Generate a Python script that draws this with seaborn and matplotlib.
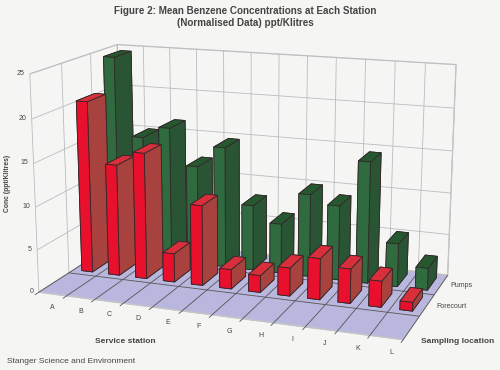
import numpy as np
import seaborn as sns
import matplotlib.pyplot as plt

stations = list("ABCDEFGHIJKL")
locations = ["Forecourt", "Pumps"]
forecourt = [20.5, 13.3, 15.0, 3.4, 9.5, 2.3, 2.0, 3.3, 4.8, 4.0, 3.0, 1.0]
pumps = [24.5, 15.0, 16.4, 12.0, 14.6, 7.9, 6.0, 9.9, 8.9, 14.4, 5.1, 2.6]
conc_ticks = [0, 5, 10, 15, 20, 25]

bg = "#f5f6f3"
ink = "#444444"
sns.set_theme(style="white", rc={"figure.facecolor": bg, "savefig.facecolor": bg})
plt.rcParams["font.family"] = ["Liberation Sans", "DejaVu Sans"]

# faces: bottom, top, front, back, left, right
red_faces = ["#e8102c", "#d92f3b", "#e8102c", "#e8102c", "#a8423f", "#a8423f"]
green_faces = ["#2f6b3e", "#26582f", "#2f6b3e", "#2f6b3e", "#2a5535", "#2a5535"]

fig = plt.figure(figsize=(5, 3.7), dpi=100)
# camera fitted to the corners of the reference's box
ax = fig.add_axes([-7.9 / 500, 1.4 / 370, 1, 1], projection="3d", computed_zorder=False)
ax.set_proj_type("persp", focal_length=0.668)
ax.view_init(elev=14.6, azim=-69.8)
ax.set_box_aspect((12, 6.225, 7.12), zoom=1.247)
ax.patch.set_alpha(0)

ax.set_xlim(0, 12)
ax.set_ylim(0, 3)
ax.set_zlim(0, 25)
ax.set_xticks(range(13))
ax.set_yticks(range(4))
ax.set_zticks(conc_ticks)

for axis in (ax.xaxis, ax.yaxis, ax.zaxis):
    axis.set_ticklabels([])
    for tick in axis.get_major_ticks():
        tick.label1.set_visible(False)
    axis.line.set_color("#c4c6c8")
    axis.line.set_linewidth(0.6)
    axis.set_pane_color(bg)
    axis.pane.set_edgecolor("#d0d2d2")
    axis._axinfo["grid"].update(color="#b9bbc0", linewidth=0.6)
    axis._axinfo["tick"].update(inward_factor=0, outward_factor=0)
ax.zaxis.pane.set_facecolor("#bab7de")

# dark floor lines
for i in range(13):
    ax.plot([i, i], [-0.12, 3], [0, 0], color="#55535f", lw=0.6, zorder=1, clip_on=False)
for j in (1, 2):
    ax.plot([0, 12], [j, j], [0, 0], color="#55535f", lw=0.6, zorder=1, clip_on=False)

bw = 0.4
bd = 0.65
z = 2
rows = [(1, forecourt, red_faces), (2, pumps, green_faces)]
for row, vals, faces in reversed(rows):
    for i in range(len(stations)):
        bar = ax.bar3d(i + (1 - bw) / 2, row + (1 - bd) / 2, 0, bw, bd, vals[i], color=faces,
                       shade=False, edgecolor="#33282a", linewidth=0.6, zorder=z)
        bar.set_clip_on(False)  # the square axes box would cut off the last bars
        z += 1

for c in conc_ticks:
    ax.text(-0.2, 0, c, str(c), fontsize=5, color=ink, ha="right", va="center")
for i, s in enumerate(stations):
    ax.text(i + 0.8, -0.3, -0.7, s, fontsize=5, color=ink, ha="center", va="center")
for row, loc in zip((1, 2), locations):
    ax.text(12.3, row + 0.5, 0, loc, fontsize=5, color=ink, ha="left", va="center")

fig.text(0.49, 0.953, "Figure 2: Mean Benzene Concentrations at Each Station\n(Normalised Data) ppt/Klitres",
         fontsize=7.15, fontweight="bold", color=ink, ha="center", va="center", linespacing=1.25)
fig.text(0.016, 0.505, "Conc (ppt/Klitres)", rotation=90, fontsize=4.9, fontweight="bold",
         color=ink, ha="center", va="center")
fig.text(0.251, 0.076, "Service station", fontsize=6, fontweight="bold", color=ink, ha="center", va="center")
fig.text(0.916, 0.076, "Sampling location", fontsize=6, fontweight="bold", color=ink, ha="center", va="center")
fig.text(0.014, 0.024, "Stanger Science and Environment", fontsize=6, color=ink, ha="left", va="center")

fig.savefig("out.png", dpi=100)
